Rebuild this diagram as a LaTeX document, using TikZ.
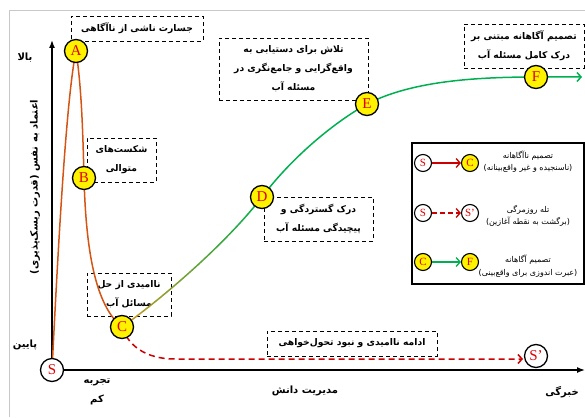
\documentclass[tikz,border=0pt]{standalone}
\usepackage{fontspec}
\setmainfont{Liberation Serif}
\newfontfamily\arabicfont[Script=Arabic]{DejaVu Sans}
\TeXXeTstate=1
\usetikzlibrary{arrows.meta}
\newcommand{\fa}[1]{{\arabicfont\beginR #1\endR}}
\definecolor{orng}{RGB}{212,84,20}
\definecolor{gold}{RGB}{210,150,30}
\definecolor{grn}{RGB}{0,176,80}
\definecolor{dred}{RGB}{204,0,0}
\definecolor{ltr}{RGB}{225,0,0}
\definecolor{framec}{RGB}{200,200,200}
\pgfdeclarelayer{bg}
\pgfdeclarelayer{mid}
\pgfsetlayers{bg,mid,main}
\tikzset{
  pt/.style={circle, draw=black, line width=1.3pt, fill=yellow, minimum size=23pt, inner sep=0pt, text=ltr, font=\fontsize{15}{15}\selectfont},
  ptw/.style={pt, fill=white},
  lpt/.style={pt, minimum size=17pt, line width=1.1pt, font=\fontsize{11}{11}\selectfont},
  lptw/.style={lpt, fill=white},
  note/.style={draw, dash pattern=on 4pt off 3pt, line width=0.8pt, fill=white, align=center, inner sep=0pt, font=\bfseries\fontsize{9.2}{19}\selectfont},
  lbl/.style={align=center, inner sep=0pt, font=\bfseries\fontsize{10}{19}\selectfont},
  ltext/.style={align=center, inner sep=0pt, font=\fontsize{8}{12.5}\selectfont},
  barb/.style={-{Straight Barb[length=4pt,width=9pt]}},
  curve/.style={line width=1.5pt, line cap=round}
}
\begin{document}
\begin{tikzpicture}[x=1pt,y=-1pt]
\useasboundingbox (0,0) rectangle (585,417);
% main points
\node[ptw] (S) at (52,370) {S};
\node[pt] (A) at (76,51) {A};
\node[pt] (B) at (84,178) {B};
\node[pt] (C) at (122,327) {C};
\node[pt] (D) at (262,197) {D};
\node[pt] (E) at (367,104) {E};
\node[pt] (F) at (536,77) {F};
\node[ptw] (Sp) at (536,356) {S’};
\coordinate (yend) at (52,40);
\coordinate (xend) at (585,370);
\coordinate (fend) at (582,77);
\coordinate (rend) at (523,359);
% legend
\node[draw, line width=1.5pt, fill=white, minimum width=172pt, minimum height=141pt, inner sep=0pt] (leg) at (498,213.5) {};
\node[lptw] (lS1) at (423,163) {S};
\node[lpt] (lC1) at (470,163) {C};
\node[lptw] (lS2) at (423,213) {S};
\node[lptw] (lSp2) at (470,213) {S’};
\node[lpt] (lC3) at (423,262) {C};
\node[lpt] (lF3) at (470,262) {F};
\draw[dred, line width=1.3pt, barb] (lS1) -- (lC1);
\draw[dred, line width=1.3pt, dash pattern=on 5pt off 3pt, barb] (lS2) -- (lSp2);
\draw[grn, line width=1.3pt, barb] (lC3) -- (lF3);
\node[ltext] (lt1) at (528,161.5) {\fa{تصمیم ناآگاهانه}\\\fa{(ناسنجیده و غیر واقع‌بینانه)}};
\node[ltext] (lt2) at (528,216) {\fa{تله روزمرگی}\\\fa{(برگشت به نقطه آغازین)}};
\node[ltext] (lt3) at (528,266) {\fa{تصمیم آگاهانه}\\\fa{(عبرت اندوزی برای واقع‌بینی)}};
% frame, boxes
\begin{pgfonlayer}{bg}
\draw[framec, line width=1pt] (9,417) -- (9,11) -- (585,11);
\node[note, minimum width=132pt, minimum height=25pt] (b1) at (137,28.5) {\fa{جسارت ناشی از ناآگاهی}};
\node[note, minimum width=69pt, minimum height=44pt] (b2) at (121.5,160) {\fa{شکست‌های}\\\fa{متوالی}};
\node[note, minimum width=84pt, minimum height=43pt] (b3) at (129,294.5) {\fa{ناامیدی از حل}\\\fa{مسائل آب}};
\node[note, minimum width=109pt, minimum height=44pt] (b4) at (318.5,219) {\fa{درک گستردگی و}\\\fa{پیچیدگی مسئله آب}};
\node[note, minimum width=149pt, minimum height=62pt] (b5) at (293.5,69) {\fa{تلاش برای دستیابی به}\\\fa{واقع‌گرایی و جامع‌نگری در}\\\fa{مسئله آب}};
\node[note, minimum width=120pt, minimum height=44pt] (b6) at (524,46) {\fa{تصمیم آگاهانه مبتنی بر}\\\fa{درک کامل مسئله آب}};
\node[note, minimum width=170pt, minimum height=25pt] (b7) at (352,343.5) {\fa{ادامه ناامیدی و نبود تحول‌خواهی}};
\end{pgfonlayer}
% curves
\begin{pgfonlayer}{mid}
\draw[line width=1.5pt, -{Latex[length=8pt,width=6pt]}] (S.center) -- (yend);
\draw[line width=1.5pt, -{Latex[length=8pt,width=6pt]}] (S.center) -- (xend);
\draw[orng, curve] (S.center) .. controls (58,250) and (66,100) .. (A.center)
  .. controls (82,90) and (83,140) .. (B.center)
  .. controls (86,250) and (95,305) .. (C.center);
\foreach \i [evaluate=\i as \t using \i/24] in {0,...,24}
  \path (C.center) .. controls (160,300) and (225,245) .. (D.center) coordinate[pos=\t] (g\i);
\foreach \i [evaluate=\i as \p using 100*\i/23, evaluate=\i as \j using int(\i+1)] in {0,...,23}
  \draw[curve, color=grn!\p!gold] (g\i) -- (g\j);
\draw[grn, curve, barb] (D.center) .. controls (290,160) and (330,125) .. (E.center)
  .. controls (410,82) and (470,77) .. (F.center) -- (fend);
\draw[dred, line width=1.5pt, dash pattern=on 6pt off 4pt, barb] (C.center) .. controls (128,345) and (145,359) .. (175,359) -- (rend);
\end{pgfonlayer}
% axis labels
\node[lbl] (hi) at (25,58) {\fa{بالا}};
\node[lbl] (lo) at (25,345) {\fa{پایین}};
\node[lbl, rotate=90] (ylab) at (35,187) {\fa{اعتماد به نفس (قدرت ریسک‌پذیری)}};
\node[lbl] (xlo) at (97,392) {\fa{تجربه}\\\fa{کم}};
\node[lbl] (xmid) at (305,391) {\fa{مدیریت دانش}};
\node[lbl] (xhi) at (562,392) {\fa{خبرگی}};
\end{tikzpicture}
\end{document}
